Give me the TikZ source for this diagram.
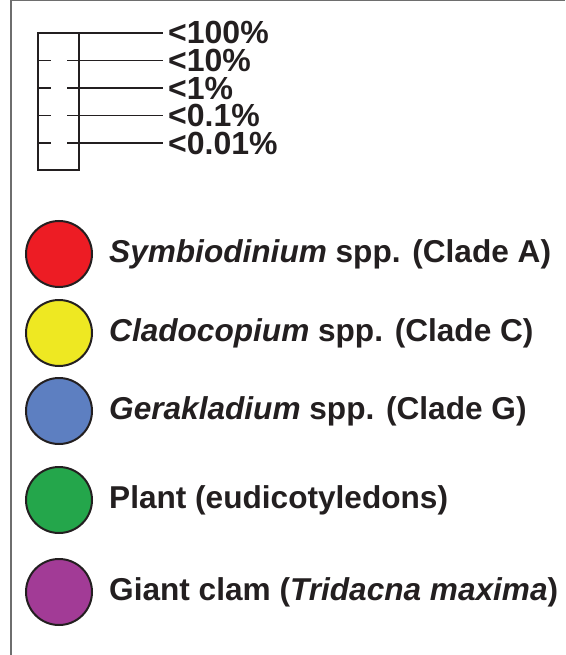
\documentclass[tikz,border=0pt]{standalone}
\usepackage{fontspec}
\setmainfont{Liberation Sans}
\usepackage{xcolor}
\usepackage{tikz}
\usetikzlibrary{positioning,calc}
\definecolor{inkblack}{RGB}{35,31,32}
\definecolor{framegray}{RGB}{110,110,110}
\definecolor{cladeared}{RGB}{237,28,36}
\definecolor{cladecyellow}{RGB}{238,232,34}
\definecolor{cladegblue}{RGB}{93,127,193}
\definecolor{plantgreen}{RGB}{36,166,75}
\definecolor{clampurple}{RGB}{162,59,150}
\tikzset{
    swatch/.style={
        circle,
        draw=inkblack,
        line width=2pt,
        minimum size=66pt,
        inner sep=0pt
    },
    legendtext/.style={
        inner sep=0pt,
        text=inkblack,
        font=\fontsize{31.6}{36}\selectfont\bfseries
    },
    scalelabel/.style={
        anchor=west,
        inner xsep=5pt,
        inner ysep=0pt,
        text=inkblack,
        font=\fontsize{32}{36}\selectfont\bfseries
    },
    scaletick/.style={
        draw=inkblack,
        line width=1.1pt
    }
}

\begin{document}
\begin{tikzpicture}[x=1pt,y=-1pt,node distance=16pt]
\useasboundingbox (0,0) rectangle (565,655);
% frame
\draw[framegray, line width=1.5pt] (11,655) -- (11,0.75) -- (565,0.75);

% scale
\node[draw=inkblack, line width=2pt, outer sep=0pt, inner sep=0pt, minimum width=41pt, minimum height=137pt] (scalebox) at (58.5,101.5) {};
\node[scalelabel] (lab100) at (163,32.5) {<100\%};
\node[scalelabel] (lab10) at (163,60.5) {<10\%};
\node[scalelabel] (lab1) at (163,88) {<1\%};
\node[scalelabel] (lab01) at (163,115.5) {<0.1\%};
\node[scalelabel] (lab001) at (163,143) {<0.01\%};

\draw[scaletick] (scalebox.north east) -- (lab100.west |- scalebox.north);
\foreach \lab in {lab10,lab1,lab01,lab001}{
    \draw[scaletick] (scalebox.west |- \lab.west) -- ++(13,0);
    \draw[scaletick] ([xshift=29pt]scalebox.west |- \lab.west) -- (\lab.west);
}

% legend
\node[swatch, fill=cladeared] (symbio) at (59,254) {};
\node[legendtext, right=of symbio] (symbio-text) {\textit{Symbiodinium} spp. (Clade A)};

\node[swatch, fill=cladecyellow] (clado) at (59,333) {};
\node[legendtext, right=of clado] (clado-text) {\textit{Cladocopium} spp. (Clade C)};

\node[swatch, fill=cladegblue] (gerak) at (59,411) {};
\node[legendtext, right=of gerak] (gerak-text) {\textit{Gerakladium} spp. (Clade G)};

\node[swatch, fill=plantgreen] (plant) at (59,500) {};
\node[legendtext, right=of plant] (plant-text) {Plant (eudicotyledons)};

\node[swatch, fill=clampurple] (clam) at (59,592) {};
\node[legendtext, right=of clam] (clam-text) {Giant clam (\textit{Tridacna maxima})};
\end{tikzpicture}
\end{document}
